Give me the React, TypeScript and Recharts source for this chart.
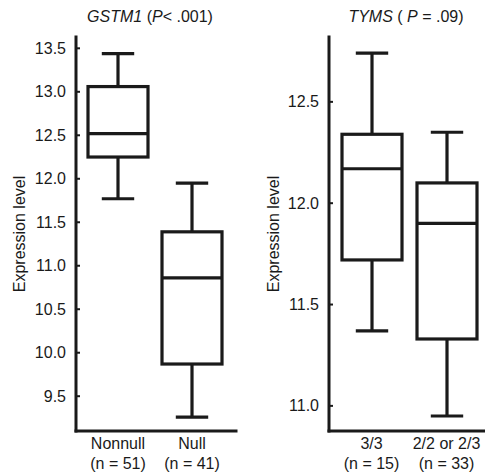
import { ComposedChart, Bar, XAxis, YAxis } from 'recharts';

// GSTM1 panel
const gstm1Groups = ['Nonnull', 'Null'];
const gstm1Counts = [51, 41];
const gstm1Min = [11.77, 9.26];
const gstm1Q1 = [12.25, 9.87];
const gstm1Median = [12.52, 10.86];
const gstm1Q3 = [13.06, 11.39];
const gstm1Max = [13.44, 11.95];
const gstm1Ticks = [9.5, 10.0, 10.5, 11.0, 11.5, 12.0, 12.5, 13.0, 13.5];

// TYMS panel
const tymsGroups = ['3/3', '2/2 or 2/3'];
const tymsCounts = [15, 33];
const tymsMin = [11.37, 10.95];
const tymsQ1 = [11.72, 11.33];
const tymsMedian = [12.17, 11.9];
const tymsQ3 = [12.34, 12.1];
const tymsMax = [12.74, 12.35];
const tymsTicks = [11.0, 11.5, 12.0, 12.5];

const INK = '#1a1a1a';
const FONT = 'Liberation Sans, Arial, Helvetica, sans-serif';
const FS = 16;

const buildRows = (groups: string[], counts: number[], mins: number[], q1s: number[], meds: number[], q3s: number[], maxs: number[]) =>
    groups.map((g, i) => ({
        group: g,
        n: counts[i],
        min: mins[i],
        q1: q1s[i],
        median: meds[i],
        q3: q3s[i],
        max: maxs[i],
        range: [mins[i], maxs[i]],
    }));

const gstm1Rows = buildRows(gstm1Groups, gstm1Counts, gstm1Min, gstm1Q1, gstm1Median, gstm1Q3, gstm1Max);
const tymsRows = buildRows(tymsGroups, tymsCounts, tymsMin, tymsQ1, tymsMedian, tymsQ3, tymsMax);

// box + whiskers drawn inside the range bar the library lays out (min..max)
const BoxShape = (props: any) => {
    const { x, y, width, height, payload } = props;
    const top = Math.min(y, y + height);
    const h = Math.abs(height);
    const span = payload.max - payload.min;
    const py = (v: number) => top + ((payload.max - v) / span) * h;
    const cx = x + width / 2;
    const cap = width * 0.27;
    const s = { stroke: INK, strokeWidth: 3.2, fill: 'none' };
    return (
        <g>
            <line x1={cx} x2={cx} y1={py(payload.max)} y2={py(payload.q3)} {...s} />
            <line x1={cx} x2={cx} y1={py(payload.q1)} y2={py(payload.min)} {...s} />
            <line x1={cx - cap} x2={cx + cap} y1={py(payload.max)} y2={py(payload.max)} {...s} />
            <line x1={cx - cap} x2={cx + cap} y1={py(payload.min)} y2={py(payload.min)} {...s} />
            <rect x={x} y={py(payload.q3)} width={width} height={py(payload.q1) - py(payload.q3)} {...s} />
            <line x1={x} x2={x + width} y1={py(payload.median)} y2={py(payload.median)} {...s} />
        </g>
    );
};

const YTick = (props: any) => {
    const { x, y, payload } = props;
    return (
        <g>
            <text x={x} y={y} dy={5.5} textAnchor="end" fill={INK} fontSize={FS} fontFamily={FONT}>
                {Number(payload.value).toFixed(1)}
            </text>
            <line x1={x + 10} x2={x + 14} y1={y} y2={y} stroke={INK} strokeWidth={2} />
        </g>
    );
};

const makeXTick = (rows: any[]) => (props: any) => {
    const { x, y, payload } = props;
    const row = rows[payload.index];
    return (
        <g>
            <text x={x} y={y + 18} textAnchor="middle" fill={INK} fontSize={FS} fontFamily={FONT}>
                {payload.value}
            </text>
            <text x={x} y={y + 38} textAnchor="middle" fill={INK} fontSize={FS} fontFamily={FONT}>
                (n = {row ? row.n : ''})
            </text>
        </g>
    );
};

const yLabel = (offset: number) => (p: any) => {
    const vb = p.viewBox;
    const lx = vb.x + offset;
    const ly = vb.y + vb.height / 2;
    return (
        <text x={lx} y={ly} transform={`rotate(-90, ${lx}, ${ly})`} textAnchor="middle" dominantBaseline="central" fill={INK} fontSize={FS} fontFamily={FONT}>
            Expression level
        </text>
    );
};

function BoxPanel({ rows, width, yWidth, domain, ticks, padding, labelOffset, right }: any) {
    const axisStyle = { stroke: INK, strokeWidth: 3, strokeLinecap: 'square' as const };
    return (
        <ComposedChart width={width} height={473} data={rows} margin={{ top: 37, right, bottom: 0, left: 0 }}>
            <XAxis
                dataKey="group"
                height={42}
                tickLine={false}
                tickSize={0}
                tickMargin={0}
                axisLine={axisStyle}
                padding={padding}
                tick={makeXTick(rows)}
                interval={0}
            />
            <YAxis
                width={yWidth}
                domain={domain}
                ticks={ticks}
                allowDataOverflow
                tickLine={false}
                tickSize={0}
                tickMargin={10}
                axisLine={axisStyle}
                tick={<YTick />}
                interval={0}
                label={{ position: 'insideLeft', content: yLabel(labelOffset) }}
            />
            <Bar dataKey="range" barSize={60} shape={BoxShape} isAnimationActive={false} fill="none" />
        </ComposedChart>
    );
}

export default function App() {
    return (
        <div style={{ position: 'absolute', top: 0, left: 0, width: 485, height: 473, background: '#fff', fontFamily: FONT, color: INK }}>
            {/* titles */}
            <div style={{ position: 'absolute', top: 8, left: 0, width: 300, textAlign: 'center', fontSize: FS }}>
                <i>GSTM1</i> (<i>P</i>&lt; .001)
            </div>
            <div style={{ position: 'absolute', top: 8, left: 256, width: 300, textAlign: 'center', fontSize: FS }}>
                <i>TYMS</i> ( <i>P</i> = .09)
            </div>

            <div style={{ position: 'absolute', top: 0, left: 0 }}>
                <BoxPanel
                    rows={gstm1Rows}
                    width={250}
                    yWidth={76}
                    right={14}
                    domain={[9.1, 13.63]}
                    ticks={gstm1Ticks}
                    padding={{ left: 5, right: 7 }}
                    labelOffset={19}
                />
            </div>
            <div style={{ position: 'absolute', top: 0, left: 250 }}>
                <BoxPanel
                    rows={tymsRows}
                    width={235}
                    yWidth={79}
                    right={0}
                    domain={[10.876, 12.82]}
                    ticks={tymsTicks}
                    padding={{ left: 5, right: 1 }}
                    labelOffset={23}
                />
            </div>
        </div>
    );
}
